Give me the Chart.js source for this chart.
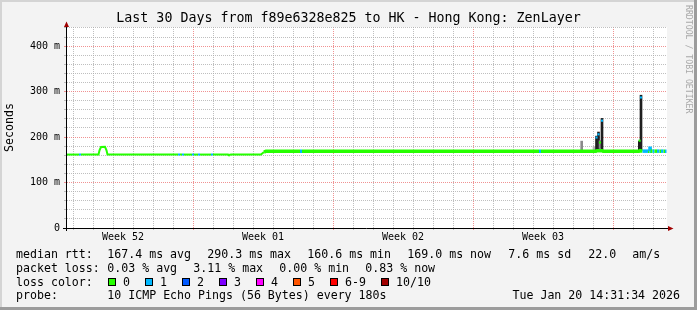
<!DOCTYPE html>
<html>
  <head>
    <meta charset="UTF-8">
    <title>Last 30 Days from f89e6328e825 to HK - Hong Kong: ZenLayer</title>
    <script src="https://cdn.jsdelivr.net/npm/chart.js"></script>
    <style>
      html, body { margin: 0; padding: 0; background: #f3f3f3; }
      #wrap { width: 697px; height: 310px; }
    </style>
  </head>

  <body>
    <div id="wrap"><canvas id="smoke" width="697" height="310"></canvas></div>

    <script>
      // x values are days counted from the left edge of the graph (Sun Dec 21, 14:31)
      const weekLabels = ['Week 52', 'Week 01', 'Week 02', 'Week 03'];
      const weekLabelDays = [2.8, 9.8, 16.8, 23.8];
      const weekStartDays = [6.3, 13.3, 20.3, 27.3];
      const firstDayLine = 0.3;

      const yTickValues = [0, 100, 200, 300, 400];
      const yTickLabels = ['0', '100 m', '200 m', '300 m', '400 m'];

      // median rtt (ms) and lost pings (of 10) for the segment ending at each point
      const medDays = [0, 0.6, 0.7, 1.575, 1.625, 1.7, 1.9, 1.975, 2.025, 5.55, 5.65, 5.75, 5.85,
                       6.25, 6.35, 6.55, 6.65, 7.2, 7.3, 8.05, 8.1, 8.2, 9.7, 9.85, 9.95, 11.65,
                       11.75, 23.6, 23.7, 26.45, 26.5, 26.75, 26.8, 28.6, 28.65, 28.775, 29.05, 29.125,
                       29.15, 29.175, 29.275, 29.375, 29.5, 29.625, 29.7, 29.825, 29.9, 29.975];
      const medMs =   [161.5, 161.5, 161.5, 161.5, 171, 178, 178.5, 171, 161.5, 161.5, 161.5, 161.5, 161.5,
                       161.5, 161.5, 161.5, 161.5, 161.5, 161.5, 161.5, 160.6, 161.5, 161.5, 167, 169, 169,
                       169, 169, 169, 169, 170, 170, 169, 169, 170, 169, 169, 169,
                       179, 169, 169, 169, 169, 169, 169, 169, 169, 169];
      const medLoss = [0, 0, 1, 0, 0, 0, 0, 0, 0, 0, 1, 0, 1,
                       0, 1, 0, 1, 0, 1, 0, 0, 0, 0, 0, 0, 0,
                       1, 0, 1, 0, 0, 0, 0, 0, 0, 0, 1, 0,
                       1, 1, 0, 1, 0, 1, 0, 1, 0, 1];

      // smoke spikes: lowest and highest ping (ms), shade 0 light .. 2 dense
      const spikeDays  = [25.735, 26.35, 26.475, 26.575, 26.65, 26.75, 28.615, 28.7];
      const spikeLo    = [169, 170, 170, 170, 175, 170, 170, 170];
      const spikeHi    = [191, 179, 202, 211, 192, 241, 191, 292];
      const spikeShade = [1, 0, 2, 2, 1, 2, 2, 2];

      // median marks on top of the spikes
      const tipDays = [26.475, 26.575, 26.65, 26.75, 28.63, 28.7];
      const tipMs   = [199, 206, 188, 236, 192, 287];
      const tipLoss = [1, 1, 0, 1, 0, 1];

      const rttStats  = ['167.4 ms avg', '290.3 ms max', '160.6 ms min', '169.0 ms now', '7.6 ms sd', '22.0', 'am/s'];
      const lossStats = ['0.03 % avg', '3.11 % max', '0.00 % min', '0.83 % now'];
      const lossLabels = ['0', '1', '2', '3', '4', '5', '6-9', '10/10'];
      const lossColors = ['#26ff00', '#00b8ff', '#0059ff', '#7e00ff', '#ff00ff', '#ff5500', '#ff0000', '#a10000'];

      const MONO = "'DejaVu Sans Mono', monospace";
      const thickFrom = 9.8;
      const minorGrid = 'rgba(170,170,170,0.75)';
      const majorGrid = 'rgba(235,110,110,0.75)';

      function lossColor(n) {
        if (n >= 10) return lossColors[7];
        if (n >= 6) return lossColors[6];
        return lossColors[n];
      }

      const xTickDays = [];
      for (let k = 0; k < 60; k++) xTickDays.push(firstDayLine + k / 2);
      const tickIndex = d => Math.round((d - firstDayLine) * 2);
      const majorIdx = weekStartDays.map(tickIndex);
      const labelIdx = weekLabelDays.map(tickIndex);

      function xGrid(ctx) {
        const i = ctx.index;
        if (i % 2) return 'rgba(0,0,0,0)';
        return majorIdx.includes(i) ? majorGrid : minorGrid;
      }

      const yTicks = [];
      for (let v = 0; v <= 440; v += 20) yTicks.push(v);

      function yGrid(ctx) {
        return yTickValues.includes(ctx.tick.value) ? majorGrid : minorGrid;
      }

      const frame = {
        id: 'frame',
        beforeDraw(chart) {
          const { ctx, chartArea: a } = chart;
          ctx.save();
          ctx.fillStyle = '#f3f3f3';
          ctx.fillRect(0, 0, chart.width, chart.height);
          ctx.fillStyle = '#ffffff';
          ctx.fillRect(a.left, a.top, a.right - a.left, a.bottom - a.top);
          ctx.restore();
        },
        afterDraw(chart) {
          const { ctx, chartArea: a } = chart;
          ctx.save();

          // axes with arrows
          ctx.strokeStyle = '#000';
          ctx.lineWidth = 1;
          ctx.beginPath();
          ctx.moveTo(a.left - 0.5, a.bottom + 3);
          ctx.lineTo(a.left - 0.5, a.top - 3);
          ctx.moveTo(a.left - 4, a.bottom + 0.5);
          ctx.lineTo(a.right + 3, a.bottom + 0.5);
          ctx.stroke();
          ctx.fillStyle = '#a00000';
          ctx.beginPath();
          ctx.moveTo(a.left - 3, a.top);
          ctx.lineTo(a.left + 2, a.top);
          ctx.lineTo(a.left - 0.5, a.top - 5.5);
          ctx.closePath();
          ctx.fill();
          ctx.beginPath();
          ctx.moveTo(a.right + 1, a.bottom - 2);
          ctx.lineTo(a.right + 1, a.bottom + 3);
          ctx.lineTo(a.right + 6.5, a.bottom + 0.5);
          ctx.closePath();
          ctx.fill();

          // title
          ctx.fillStyle = '#000';
          ctx.textBaseline = 'middle';
          ctx.textAlign = 'center';
          ctx.font = '13.3px ' + MONO;
          ctx.fillText('Last 30 Days from f89e6328e825 to HK - Hong Kong: ZenLayer', 348.5, 19);

          // legend rows
          ctx.textAlign = 'left';
          ctx.font = '11.6px ' + MONO;
          const rows = [254.5, 268.5, 282.5, 296.3];
          ctx.fillText('median rtt:', 16, rows[0]);
          const rttX = [107.3, 207.3, 307.3, 407.3, 508.3, 588.3, 632.3];
          rttStats.forEach((s, i) => ctx.fillText(s, rttX[i], rows[0]));
          ctx.fillText('packet loss:', 16, rows[1]);
          lossStats.forEach((s, i) => ctx.fillText(s, 107.3 + 86 * i, rows[1]));
          ctx.fillText('loss color:', 16, rows[2]);
          lossLabels.forEach((s, i) => {
            const bx = i < 7 ? 108.5 + 37 * i : 381.5;
            ctx.fillStyle = lossColors[i];
            ctx.fillRect(bx, rows[2] - 4, 7, 7);
            ctx.strokeStyle = '#000';
            ctx.strokeRect(bx, rows[2] - 4, 7, 7);
            ctx.fillStyle = '#000';
            ctx.fillText(s, bx + 14.5, rows[2]);
          });
          ctx.fillText('probe:', 16, rows[3]);
          ctx.fillText('10 ICMP Echo Pings (56 Bytes) every 180s', 107.3, rows[3]);
          ctx.textAlign = 'right';
          ctx.fillText('Tue Jan 20 14:31:34 2026', 680, rows[3]);

          // watermark
          ctx.save();
          ctx.translate(688.5, 5);
          ctx.rotate(Math.PI / 2);
          ctx.textAlign = 'left';
          ctx.font = '8.2px ' + MONO;
          ctx.fillStyle = '#a8a8a8';
          ctx.fillText('RRDTOOL / TOBI OETIKER', 0, 0);
          ctx.restore();

          // image frame
          ctx.fillStyle = '#d4d4d4';
          ctx.fillRect(0, 0, chart.width, 2);
          ctx.fillRect(0, 0, 2, chart.height);
          ctx.fillStyle = '#9c9c9c';
          ctx.fillRect(0, chart.height - 3, chart.width, 3);
          ctx.fillRect(chart.width - 3, 0, 3, chart.height);
          ctx.restore();
        }
      };

      new Chart(document.getElementById('smoke'), {
        type: 'line',
        data: {
          datasets: [
            {
              type: 'line',
              order: 1,
              data: medDays.map((d, i) => ({ x: d, y: medMs[i] })),
              borderColor: lossColors[0],
              borderWidth: 2,
              borderCapStyle: 'butt',
              pointRadius: 0,
              tension: 0,
              segment: {
                borderColor: c => lossColor(medLoss[c.p1DataIndex]),
                borderWidth: c => c.p0.parsed.x >= thickFrom ? 3.5 : 2
              }
            },
            {
              type: 'line',
              order: 0,
              showLine: false,
              data: tipDays.map((d, i) => ({ x: d, y: tipMs[i] })),
              pointStyle: 'rect',
              pointRadius: 1.5,
              pointBorderWidth: 0,
              pointBackgroundColor: c => lossColor(tipLoss[c.dataIndex])
            },
            {
              type: 'bar',
              order: 2,
              grouped: false,
              data: spikeDays.map((d, i) => ({ x: d, y: [spikeLo[i], spikeHi[i]] })),
              barThickness: 2,
              borderWidth: 0,
              borderSkipped: false,
              backgroundColor: c => ['#b4b4b4', '#8a8a8a', '#1e1e1e'][spikeShade[c.dataIndex]]
            }
          ]
        },
        options: {
          responsive: false,
          animation: false,
          devicePixelRatio: 1,
          layout: { padding: { top: 27, right: 30, bottom: 62, left: 0 } },
          plugins: {
            legend: { display: false },
            tooltip: { enabled: false },
            title: { display: false }
          },
          scales: {
            x: {
              type: 'linear',
              min: 0,
              max: 30,
              offset: false,
              afterBuildTicks: s => { s.ticks = xTickDays.map(v => ({ value: v })); },
              afterFit: s => { s.height = 20; },
              grid: { offset: false, color: xGrid, tickColor: xGrid, tickLength: 2, lineWidth: 1 },
              border: { display: false, dash: [1, 1] },
              ticks: {
                autoSkip: false,
                maxRotation: 0,
                padding: 1,
                color: '#000',
                font: { family: MONO, size: 10 },
                callback: (v, i) => {
                  const j = labelIdx.indexOf(i);
                  return j >= 0 ? weekLabels[j] : '';
                }
              }
            },
            y: {
              type: 'linear',
              min: 0,
              max: 442,
              afterBuildTicks: s => { s.ticks = yTicks.map(v => ({ value: v })); },
              afterFit: s => { s.width = 67; },
              grid: { color: yGrid, tickColor: yGrid, tickLength: 3, lineWidth: 1 },
              border: { display: false, dash: [1, 1] },
              title: {
                display: true,
                text: 'Seconds',
                color: '#000',
                font: { family: MONO, size: 11.6 },
                padding: { top: 3, bottom: 0 }
              },
              ticks: {
                autoSkip: false,
                padding: 4,
                color: '#000',
                font: { family: MONO, size: 10 },
                callback: v => {
                  const j = yTickValues.indexOf(v);
                  return j >= 0 ? yTickLabels[j] : '';
                }
              }
            }
          }
        },
        plugins: [frame]
      });
    </script>
  </body>
</html>
